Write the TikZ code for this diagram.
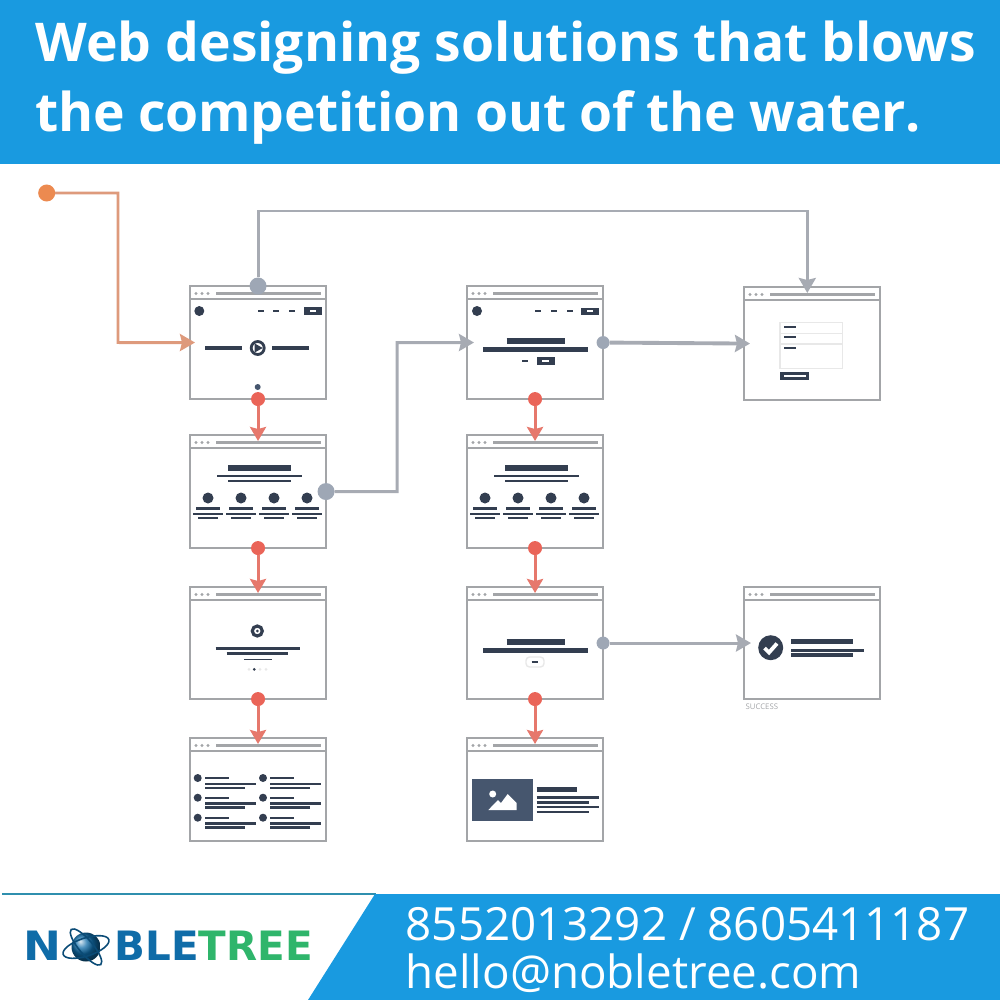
\documentclass[tikz,border=0pt]{standalone}
\usepackage{fontspec}
\setmainfont{Open Sans}
\newfontfamily\logofont{DejaVu Sans}
\usetikzlibrary{arrows.meta}

\definecolor{bandblue}{HTML}{199AE0}
\definecolor{logoblue}{HTML}{0F6CA8}
\definecolor{logogreen}{HTML}{2FB56B}
\definecolor{ruleteal}{HTML}{2F8FAE}
\definecolor{wingrey}{HTML}{A3A5A8}
\definecolor{inkdark}{HTML}{333E50}
\definecolor{inkslate}{HTML}{46566E}
\definecolor{paleline}{HTML}{E8E8E8}
\definecolor{dotred}{HTML}{EA6458}
\definecolor{dotgrey}{HTML}{9EA7B5}
\definecolor{dotorange}{HTML}{EC8A50}
\definecolor{lineorange}{HTML}{DE9A7C}
\definecolor{linered}{HTML}{E6786C}
\definecolor{linegrey}{HTML}{A7ABB3}

\tikzset{
  winbox/.style={draw=wingrey,line width=.8pt,fill=white,minimum width=1.36cm,
    anchor=north west,outer sep=0pt,inner sep=0pt},
  inkbar/.style={draw=inkdark,line width=#1*.33pt},
  inkdisc/.style={fill=inkdark,draw=none},
  bandtext/.style={text=white,anchor=base west,inner sep=0pt},
  logotext/.style={inner sep=0pt,anchor=base west,font=\logofont\fontsize{11.5pt}{11.5pt}\bfseries},
}

% browser frame: name, left, top, height
\newcommand{\pagewin}[4]{
    \node[winbox,minimum height=#4cm] (#1) at (#2,#3) {};
    \draw[wingrey,line width=.75pt] (#2,#3+13) -- +(136,0);
    \draw[wingrey,line width=.75pt] (#2+26,#3+7.5) -- +(105,0);
    \fill[wingrey] (#2+6,#3+7.5) circle (1.6) (#2+12,#3+7.5) circle (1.6) (#2+18,#3+7.5) circle (1.6);
}

\begin{document}
\begin{tikzpicture}[x=.01cm,y=-.01cm]
    \useasboundingbox (0,0) rectangle (1000,1000);

    % header and footer bands
    \fill[bandblue] (0,0) rectangle (1000,164);
    \node[bandtext,font=\fontsize{15.2pt}{15.2pt}\bfseries] (titleA) at (35,61) {Web designing solutions that blows};
    \node[bandtext,font=\fontsize{15.2pt}{15.2pt}\bfseries\addfontfeature{LetterSpace=-0.5}] (titleB) at (35,131) {the competition out of the water.};
    \draw[ruleteal,line width=.6pt] (2,894) -- (376,894);
    \fill[bandblue] (375,894) -- (1000,894) -- (1000,1000) -- (308,1000) -- cycle;
    \node[bandtext,font=\fontsize{13pt}{13pt}\selectfont] (phones) at (405,940) {8552013292 / 8605411187};
    \node[bandtext,font=\fontsize{13pt}{13pt}\selectfont] (email) at (405,988) {hello@nobletree.com};

    % logo
    \node[logotext,text=logoblue] (logoN) at (23,960) {\scalebox{1.12}[1]{N}};
    \node[logotext,text=logoblue] (logoBle) at (114,960) {BLE};
    \node[logotext,text=logogreen] (logoTree) at (198,960) {TREE};
    \shade[ball color=logoblue] (86,947) circle (14.5);
    \draw[logoblue!70!black,line width=.45pt,rotate around={18:(86,947)}] (86,947) ellipse (24 and 9);
    \draw[logoblue!70!black,line width=.45pt,rotate around={-50:(86,947)}] (86,947) ellipse (23 and 7);

    % windows
    \pagewin{home}{190}{286}{1.13}
    \pagewin{features}{190}{435}{1.13}
    \pagewin{profile}{190}{587}{1.12}
    \pagewin{faq}{190}{738}{1.03}
    \pagewin{landing}{467}{286}{1.13}
    \pagewin{services}{467}{435}{1.13}
    \pagewin{offer}{467}{587}{1.12}
    \pagewin{gallery}{467}{738}{1.03}
    \pagewin{form}{744}{287}{1.13}
    \pagewin{success}{744}{587}{1.12}

    % home
    \fill[inkdisc] (199.3,311) circle (5);
    \foreach \dx in {261,276,292} \draw[inkbar=2] (\dx-3,311) -- (\dx+3,311);
    \fill[inkdark] (304,307) rectangle (322,315);
    \draw[white,line width=.5pt] (310,311) -- (316,311);
    \draw[inkbar=3.5] (205,348) -- (242,348);
    \draw[inkbar=3.5] (272,348) -- (309,348);
    \draw[inkdark,line width=.8pt,fill=white] (257.7,348) circle (6.5);
    \fill[inkdark] (254.7,343.5) -- (262.7,348) -- (254.7,352.5) -- cycle;
    \fill[inkslate] (257.7,387) circle (3);

    % landing
    \fill[inkdisc] (477,311) circle (5);
    \foreach \dx in {538.3,554,570} \draw[inkbar=2] (\dx-3,311) -- (\dx+3,311);
    \fill[inkdark] (581,307.5) rectangle (599.3,315);
    \draw[white,line width=.5pt] (587,311) -- (593,311);
    \draw[inkbar=5] (506.7,340.7) -- (565,340.7);
    \draw[inkbar=4.5] (483.3,349.3) -- (588.3,349.3);
    \draw[inkbar=2] (522,361) -- (528,361);
    \fill[inkdark] (536.7,357.3) rectangle (555,365);
    \draw[white,line width=.5pt] (542,361) -- (549,361);

    % features and services
    \foreach \dx in {0,277} {
        \draw[inkbar=5] (\dx+228,468) -- (\dx+291,468);
        \draw[inkbar=2.5] (\dx+217,476) -- (\dx+302,476);
        \draw[inkbar=2] (\dx+228,481) -- (\dx+291,481);
        \foreach \cx in {208,241,274,307} {
            \fill[inkdisc] (\dx+\cx,498) circle (5.5);
            \draw[inkbar=2.5] (\dx+\cx-12,508.7) -- (\dx+\cx+12,508.7);
            \draw[inkbar=2.5] (\dx+\cx-15,514) -- (\dx+\cx+15,514);
            \draw[inkbar=2] (\dx+\cx-10,518.3) -- (\dx+\cx+10,518.3);
        }
    }

    % profile
    \draw[inkdark,line width=.9pt,fill=white] (257.3,631) circle (5);
    \fill[inkdark] (257.3,631) circle (1.5);
    \draw[inkbar=2.5] (215.7,648.3) -- (300,648.3);
    \draw[inkbar=2.5] (226.7,653.3) -- (288.3,653.3);
    \draw[inkbar=1.2] (244,659.3) -- (271.7,659.3);
    \fill[paleline] (249,669.3) circle (1.5) (260,669.3) circle (1.5) (266,669.3) circle (1.5);
    \fill[inkdark] (254.3,669.3) circle (1.5);

    % faq
    \foreach \ry in {778,797.7,817.7} {
        \foreach \dx in {0,65.3} {
            \fill[inkdisc] (\dx+197.7,\ry) circle (4);
            \draw[inkbar=2] (\dx+205,\ry) -- (\dx+229,\ry);
            \draw[inkbar=2] (\dx+205,\ry+5.7) -- (\dx+256,\ry+5.7);
            \draw[inkbar=2] (\dx+205,\ry+9.7) -- (\dx+245,\ry+9.7);
        }
    }

    % offer
    \draw[inkbar=5] (506.7,641.7) -- (564.7,641.7);
    \draw[inkbar=4.5] (483.3,650.3) -- (588.3,650.3);
    \draw[paleline,line width=.4pt,rounded corners=1pt] (526,657) rectangle (544,667);
    \draw[inkbar=2] (531.7,661.7) -- (538.3,661.7);

    % gallery
    \fill[inkslate] (471.7,779) rectangle (533.3,821);
    \fill[white] (492.7,794) circle (3.5);
    \fill[white] (488.3,810) -- (498,800) -- (501,803) -- (507.7,794) -- (516.7,803) -- (516.7,810) -- cycle;
    \draw[inkbar=4.5] (536.7,789.7) -- (577.3,789.7);
    \draw[inkbar=2.5] (536.7,797.3) -- (599.3,797.3);
    \draw[inkbar=2.5] (536.7,802.3) -- (589.3,802.3);
    \draw[inkbar=2.5] (536.7,807) -- (599.3,807);
    \draw[inkbar=2.5] (536.7,812) -- (589.3,812);

    % form
    \draw[paleline,line width=.4pt] (780,322.3) rectangle (842.7,368.3);
    \draw[paleline,line width=.4pt] (780,333.3) -- (842.7,333.3) (780,344) -- (842.7,344);
    \foreach \ry in {326.7,337.3,348} \draw[inkbar=2] (784.3,\ry) -- (795.7,\ry);
    \fill[inkdark] (780,371.7) rectangle (809.3,380);
    \draw[white,line width=.6pt] (784,375.8) -- (805.5,375.8);

    % success
    \fill[inkdark] (770.7,647.7) circle (12.5);
    \draw[white,line width=1.1pt] (764.5,648) -- (769,652.5) -- (777,643.5);
    \draw[inkbar=4.5] (791,641.7) -- (853.3,641.7);
    \draw[inkbar=3] (791,650.3) -- (864.3,650.3);
    \draw[inkbar=3] (791,655) -- (853.3,655);
    \node[text=wingrey,inner sep=0pt,anchor=base west,font=\fontsize{2.2pt}{2.2pt}\selectfont] (successNote) at (745,709) {SUCCESS};

    % connection dots
    \begin{scope}[every node/.style={circle,inner sep=0pt,outer sep=0pt,fill=dotred,minimum size=.14cm}]
      \node (homeS) at (home.south) {};
      \node (featuresS) at (features.south) {};
      \node (profileS) at (profile.south) {};
      \node (landingS) at (landing.south) {};
      \node (servicesS) at (services.south) {};
      \node (offerS) at (offer.south) {};
    \end{scope}
    \begin{scope}[every node/.style={circle,inner sep=0pt,outer sep=0pt,fill=dotgrey}]
      \node[minimum size=.17cm] (homeN) at (home.north) {};
      \node[minimum size=.17cm] (featuresE) at (features.east) {};
      \node[minimum size=.13cm] (landingE) at (landing.east) {};
      \node[minimum size=.13cm] (offerE) at (offer.east) {};
    \end{scope}
    \node[circle,inner sep=0pt,outer sep=0pt,fill=dotorange,minimum size=.17cm] (start) at (46.7,193) {};

    \coordinate (startBend) at (118,342.5);
    \coordinate (featuresBend) at (397,342.5);
    \coordinate (routeTop) at (807.3,211);
    \coordinate (formIn) at (807.3,293);

    % connectors
    \begin{scope}[>={Stealth[length=.14cm,width=.16cm,inset=.02cm]},
        every edge/.style={draw=linered,line width=.85pt,shorten >=-.06cm}]
      \path [->] (homeS) edge (features.north);
      \path [->] (featuresS) edge (profile.north);
      \path [->] (profileS) edge (faq.north);
      \path [->] (landingS) edge (services.north);
      \path [->] (servicesS) edge (offer.north);
      \path [->] (offerS) edge (gallery.north);
    \end{scope}

    \begin{scope}[>={Stealth[length=.15cm,width=.17cm,inset=.02cm]},line width=.85pt]
      \draw [->,lineorange,shorten >=-.05cm] (start) -| (startBend) -- (home.west);
      \draw [->,linegrey] (homeN) |- (routeTop) -- (formIn);
      \draw [->,linegrey,shorten >=-.07cm] (featuresE) -| (featuresBend) -- (landing.west);
      \draw [->,linegrey,line width=1.1pt,shorten >=-.06cm] (landingE) -- (form.west);
      \draw [->,linegrey,shorten >=-.07cm] (offerE) -- (success.west);
    \end{scope}
\end{tikzpicture}
\end{document}
